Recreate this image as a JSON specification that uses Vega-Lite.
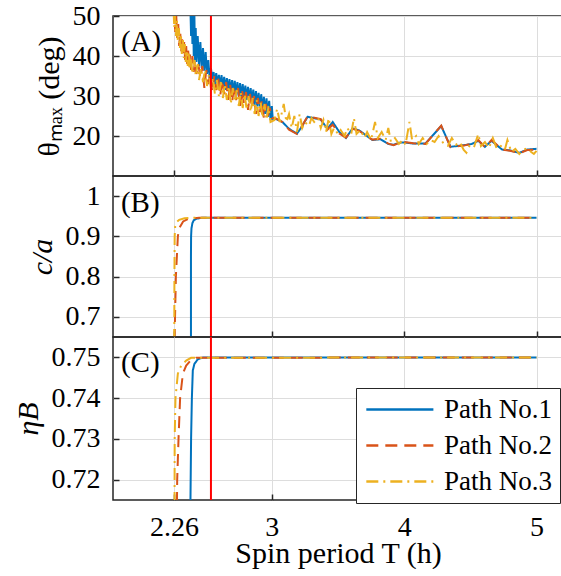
{
"$schema": "https://vega.github.io/schema/vega-lite/v6.json",
"padding": {"left": 12, "top": 1, "right": 0, "bottom": 0},
"spacing": 0,
"bounds": "flush",
"config": {
  "font": "Liberation Serif",
  "view": {"stroke": "#262626", "strokeWidth": 1.5},
  "axis": {"labelFontSize": 28, "titleFontSize": 30, "titleFontWeight": "normal", "tickSize": -6, "labelPadding": 19},
  "legend": {"labelFontSize": 27, "symbolType": "M-1,0H5", "symbolSize": 500}
},
"datasets": {
"a": [
{"p":"Path No.1","x":2.385,"y":52},{"p":"Path No.1","x":2.39,"y":45},{"p":"Path No.1","x":2.395,"y":52},{"p":"Path No.1","x":2.40,"y":43},{"p":"Path No.1","x":2.405,"y":51},{"p":"Path No.1","x":2.41,"y":40},{"p":"Path No.1","x":2.415,"y":50},{"p":"Path No.1","x":2.42,"y":39},{"p":"Path No.1","x":2.425,"y":47},{"p":"Path No.1","x":2.43,"y":38.5},{"p":"Path No.1","x":2.44,"y":45},{"p":"Path No.1","x":2.45,"y":37.5},{"p":"Path No.1","x":2.46,"y":43.5},{"p":"Path No.1","x":2.47,"y":37},{"p":"Path No.1","x":2.48,"y":42},{"p":"Path No.1","x":2.49,"y":36.3},{"p":"Path No.1","x":2.50,"y":41},{"p":"Path No.1","x":2.51,"y":35.5},{"p":"Path No.1","x":2.52,"y":39},{"p":"Path No.1","x":2.53,"y":34.5},{"p":"Path No.1","x":2.54,"y":37},{"p":"Path No.1","x":2.55,"y":34},{"p":"Path No.1","x":2.56,"y":36},{"p":"Path No.1","x":2.57,"y":33},{"p":"Path No.1","x":2.58,"y":35.7},{"p":"Path No.1","x":2.59,"y":32.8},{"p":"Path No.1","x":2.60,"y":35.3},{"p":"Path No.1","x":2.61,"y":32.2},{"p":"Path No.1","x":2.62,"y":35.2},{"p":"Path No.1","x":2.63,"y":32},{"p":"Path No.1","x":2.64,"y":34.8},{"p":"Path No.1","x":2.65,"y":31.5},{"p":"Path No.1","x":2.66,"y":34.5},{"p":"Path No.1","x":2.67,"y":31.2},{"p":"Path No.1","x":2.68,"y":34.2},{"p":"Path No.1","x":2.69,"y":30.8},{"p":"Path No.1","x":2.70,"y":34},{"p":"Path No.1","x":2.71,"y":30.5},{"p":"Path No.1","x":2.72,"y":33.8},{"p":"Path No.1","x":2.73,"y":30.2},{"p":"Path No.1","x":2.74,"y":33.5},{"p":"Path No.1","x":2.75,"y":30},{"p":"Path No.1","x":2.76,"y":33.2},{"p":"Path No.1","x":2.77,"y":29.7},{"p":"Path No.1","x":2.78,"y":33},{"p":"Path No.1","x":2.79,"y":29.4},{"p":"Path No.1","x":2.80,"y":32.6},{"p":"Path No.1","x":2.81,"y":29},{"p":"Path No.1","x":2.82,"y":32.3},{"p":"Path No.1","x":2.83,"y":28.6},{"p":"Path No.1","x":2.84,"y":32},{"p":"Path No.1","x":2.85,"y":28.2},{"p":"Path No.1","x":2.86,"y":31.6},{"p":"Path No.1","x":2.87,"y":27.8},{"p":"Path No.1","x":2.88,"y":31.2},{"p":"Path No.1","x":2.89,"y":27.4},{"p":"Path No.1","x":2.90,"y":30.8},{"p":"Path No.1","x":2.91,"y":27},{"p":"Path No.1","x":2.92,"y":30.4},{"p":"Path No.1","x":2.93,"y":26.2},{"p":"Path No.1","x":2.94,"y":29.8},{"p":"Path No.1","x":2.95,"y":25.5},{"p":"Path No.1","x":2.96,"y":29.4},{"p":"Path No.1","x":2.97,"y":24.8},{"p":"Path No.1","x":2.98,"y":28.8},{"p":"Path No.1","x":2.99,"y":24},{"p":"Path No.1","x":3.00,"y":27.5},{"p":"Path No.1","x":3.007,"y":24.2},
{"p":"Path No.1","x":3.03,"y":24.3},{"p":"Path No.1","x":3.08,"y":23.5},{"p":"Path No.1","x":3.13,"y":21.8},{"p":"Path No.1","x":3.19,"y":20.6},{"p":"Path No.1","x":3.22,"y":22},{"p":"Path No.1","x":3.27,"y":24.8},{"p":"Path No.1","x":3.33,"y":24.4},{"p":"Path No.1","x":3.37,"y":24.1},{"p":"Path No.1","x":3.42,"y":21.8},{"p":"Path No.1","x":3.46,"y":23.5},{"p":"Path No.1","x":3.51,"y":21},{"p":"Path No.1","x":3.56,"y":19.5},{"p":"Path No.1","x":3.61,"y":21.9},{"p":"Path No.1","x":3.66,"y":21.4},{"p":"Path No.1","x":3.71,"y":20.2},{"p":"Path No.1","x":3.76,"y":19},{"p":"Path No.1","x":3.82,"y":19.2},{"p":"Path No.1","x":3.88,"y":18},{"p":"Path No.1","x":3.92,"y":17.8},{"p":"Path No.1","x":3.96,"y":18.3},{"p":"Path No.1","x":4.00,"y":18.4},{"p":"Path No.1","x":4.07,"y":18.1},{"p":"Path No.1","x":4.16,"y":18.1},{"p":"Path No.1","x":4.28,"y":22.5},{"p":"Path No.1","x":4.35,"y":17.3},{"p":"Path No.1","x":4.45,"y":17.7},{"p":"Path No.1","x":4.51,"y":18},{"p":"Path No.1","x":4.56,"y":18.8},{"p":"Path No.1","x":4.61,"y":17.3},{"p":"Path No.1","x":4.66,"y":18.8},{"p":"Path No.1","x":4.74,"y":16.6},{"p":"Path No.1","x":4.80,"y":16.4},{"p":"Path No.1","x":4.87,"y":15.8},{"p":"Path No.1","x":4.93,"y":16.6},{"p":"Path No.1","x":5.0,"y":16.8},
{"p":"Path No.2","x":2.262,"y":52},{"p":"Path No.2","x":2.27,"y":46},{"p":"Path No.2","x":2.278,"y":50},{"p":"Path No.2","x":2.285,"y":44.5},{"p":"Path No.2","x":2.293,"y":48},{"p":"Path No.2","x":2.30,"y":42.5},{"p":"Path No.2","x":2.308,"y":46},{"p":"Path No.2","x":2.315,"y":41},{"p":"Path No.2","x":2.323,"y":45},{"p":"Path No.2","x":2.33,"y":40},{"p":"Path No.2","x":2.338,"y":43.5},{"p":"Path No.2","x":2.345,"y":39},{"p":"Path No.2","x":2.353,"y":42.5},{"p":"Path No.2","x":2.36,"y":38},{"p":"Path No.2","x":2.368,"y":41.5},{"p":"Path No.2","x":2.375,"y":37},{"p":"Path No.2","x":2.383,"y":40.5},{"p":"Path No.2","x":2.39,"y":36.5},{"p":"Path No.2","x":2.40,"y":40},{"p":"Path No.2","x":2.41,"y":36},{"p":"Path No.2","x":2.42,"y":39},{"p":"Path No.2","x":2.43,"y":35.5},{"p":"Path No.2","x":2.445,"y":38},{"p":"Path No.2","x":2.46,"y":34.5},{"p":"Path No.2","x":2.475,"y":37.5},{"p":"Path No.2","x":2.49,"y":32},{"p":"Path No.2","x":2.505,"y":36.5},{"p":"Path No.2","x":2.52,"y":33},{"p":"Path No.2","x":2.535,"y":35.5},{"p":"Path No.2","x":2.55,"y":31},{"p":"Path No.2","x":2.565,"y":35},{"p":"Path No.2","x":2.58,"y":31.5},{"p":"Path No.2","x":2.595,"y":34.5},{"p":"Path No.2","x":2.61,"y":30},{"p":"Path No.2","x":2.625,"y":34},{"p":"Path No.2","x":2.64,"y":30.5},{"p":"Path No.2","x":2.655,"y":33.5},{"p":"Path No.2","x":2.67,"y":29},{"p":"Path No.2","x":2.685,"y":33},{"p":"Path No.2","x":2.70,"y":28.5},{"p":"Path No.2","x":2.715,"y":32.5},{"p":"Path No.2","x":2.73,"y":29},{"p":"Path No.2","x":2.745,"y":32},{"p":"Path No.2","x":2.76,"y":27.5},{"p":"Path No.2","x":2.775,"y":31.5},{"p":"Path No.2","x":2.79,"y":28},{"p":"Path No.2","x":2.805,"y":31},{"p":"Path No.2","x":2.82,"y":26.5},{"p":"Path No.2","x":2.835,"y":30.5},{"p":"Path No.2","x":2.85,"y":27},{"p":"Path No.2","x":2.865,"y":30},{"p":"Path No.2","x":2.88,"y":25.5},{"p":"Path No.2","x":2.895,"y":29.5},{"p":"Path No.2","x":2.91,"y":26},{"p":"Path No.2","x":2.925,"y":29},{"p":"Path No.2","x":2.94,"y":24.5},{"p":"Path No.2","x":2.955,"y":28},{"p":"Path No.2","x":2.97,"y":25},{"p":"Path No.2","x":2.985,"y":27},{"p":"Path No.2","x":3.00,"y":24.5},
{"p":"Path No.2","x":3.03,"y":24.4},{"p":"Path No.2","x":3.08,"y":23.5},{"p":"Path No.2","x":3.13,"y":21.6},{"p":"Path No.2","x":3.19,"y":20.5},{"p":"Path No.2","x":3.22,"y":22},{"p":"Path No.2","x":3.27,"y":24.9},{"p":"Path No.2","x":3.33,"y":24.5},{"p":"Path No.2","x":3.37,"y":24.2},{"p":"Path No.2","x":3.42,"y":21.6},{"p":"Path No.2","x":3.46,"y":22.8},{"p":"Path No.2","x":3.51,"y":20.6},{"p":"Path No.2","x":3.56,"y":19.6},{"p":"Path No.2","x":3.61,"y":21.8},{"p":"Path No.2","x":3.66,"y":21.3},{"p":"Path No.2","x":3.71,"y":20.1},{"p":"Path No.2","x":3.76,"y":19.1},{"p":"Path No.2","x":3.82,"y":19.3},{"p":"Path No.2","x":3.88,"y":18.1},{"p":"Path No.2","x":3.92,"y":17.7},{"p":"Path No.2","x":3.96,"y":18.2},{"p":"Path No.2","x":4.00,"y":18.5},{"p":"Path No.2","x":4.07,"y":18.2},{"p":"Path No.2","x":4.16,"y":18},{"p":"Path No.2","x":4.28,"y":22.6},{"p":"Path No.2","x":4.35,"y":17.2},{"p":"Path No.2","x":4.45,"y":17.6},{"p":"Path No.2","x":4.51,"y":18.1},{"p":"Path No.2","x":4.56,"y":19},{"p":"Path No.2","x":4.61,"y":17.2},{"p":"Path No.2","x":4.66,"y":19},{"p":"Path No.2","x":4.74,"y":16.6},{"p":"Path No.2","x":4.80,"y":16.3},{"p":"Path No.2","x":4.87,"y":15.7},{"p":"Path No.2","x":4.93,"y":16.5},{"p":"Path No.2","x":5.0,"y":16.6},
{"p":"Path No.3","x":2.258,"y":51},{"p":"Path No.3","x":2.263,"y":47},{"p":"Path No.3","x":2.268,"y":50},{"p":"Path No.3","x":2.275,"y":45},{"p":"Path No.3","x":2.283,"y":49},{"p":"Path No.3","x":2.29,"y":43.5},{"p":"Path No.3","x":2.298,"y":47},{"p":"Path No.3","x":2.305,"y":42},{"p":"Path No.3","x":2.313,"y":45.5},{"p":"Path No.3","x":2.32,"y":40.5},{"p":"Path No.3","x":2.328,"y":44},{"p":"Path No.3","x":2.335,"y":39.5},{"p":"Path No.3","x":2.343,"y":43},{"p":"Path No.3","x":2.35,"y":38.5},{"p":"Path No.3","x":2.358,"y":41.5},{"p":"Path No.3","x":2.365,"y":37.5},{"p":"Path No.3","x":2.373,"y":41},{"p":"Path No.3","x":2.38,"y":37},{"p":"Path No.3","x":2.39,"y":39.5},{"p":"Path No.3","x":2.40,"y":35.5},{"p":"Path No.3","x":2.415,"y":39},{"p":"Path No.3","x":2.425,"y":35},{"p":"Path No.3","x":2.44,"y":38},{"p":"Path No.3","x":2.45,"y":34},{"p":"Path No.3","x":2.465,"y":37},{"p":"Path No.3","x":2.48,"y":33.5},{"p":"Path No.3","x":2.495,"y":36.5},{"p":"Path No.3","x":2.51,"y":32.5},{"p":"Path No.3","x":2.525,"y":35.5},{"p":"Path No.3","x":2.54,"y":32},{"p":"Path No.3","x":2.555,"y":34.5},{"p":"Path No.3","x":2.57,"y":30.5},{"p":"Path No.3","x":2.585,"y":34},{"p":"Path No.3","x":2.60,"y":30},{"p":"Path No.3","x":2.615,"y":33.5},{"p":"Path No.3","x":2.63,"y":29.5},{"p":"Path No.3","x":2.645,"y":33},{"p":"Path No.3","x":2.66,"y":29},{"p":"Path No.3","x":2.675,"y":32.5},{"p":"Path No.3","x":2.69,"y":28},{"p":"Path No.3","x":2.705,"y":32},{"p":"Path No.3","x":2.72,"y":28.5},{"p":"Path No.3","x":2.735,"y":31.5},{"p":"Path No.3","x":2.75,"y":27.5},{"p":"Path No.3","x":2.765,"y":31},{"p":"Path No.3","x":2.78,"y":27},{"p":"Path No.3","x":2.795,"y":30.5},{"p":"Path No.3","x":2.81,"y":26.5},{"p":"Path No.3","x":2.825,"y":30},{"p":"Path No.3","x":2.84,"y":26},{"p":"Path No.3","x":2.855,"y":29.5},{"p":"Path No.3","x":2.87,"y":25.5},{"p":"Path No.3","x":2.885,"y":29},{"p":"Path No.3","x":2.90,"y":25},{"p":"Path No.3","x":2.915,"y":28.5},{"p":"Path No.3","x":2.93,"y":24.5},{"p":"Path No.3","x":2.945,"y":28},{"p":"Path No.3","x":2.96,"y":24},{"p":"Path No.3","x":2.975,"y":27.5},{"p":"Path No.3","x":2.99,"y":23.5},
{"p":"Path No.3","x":3.02,"y":24},{"p":"Path No.3","x":3.04,"y":26.8},{"p":"Path No.3","x":3.06,"y":23.5},{"p":"Path No.3","x":3.09,"y":28},{"p":"Path No.3","x":3.11,"y":23.5},{"p":"Path No.3","x":3.13,"y":25.5},{"p":"Path No.3","x":3.15,"y":22},{"p":"Path No.3","x":3.17,"y":25},{"p":"Path No.3","x":3.19,"y":21},{"p":"Path No.3","x":3.21,"y":25.5},{"p":"Path No.3","x":3.23,"y":22},{"p":"Path No.3","x":3.25,"y":23.5},{"p":"Path No.3","x":3.28,"y":22.5},{"p":"Path No.3","x":3.30,"y":24.5},{"p":"Path No.3","x":3.32,"y":23.5},{"p":"Path No.3","x":3.35,"y":24.5},{"p":"Path No.3","x":3.37,"y":22},{"p":"Path No.3","x":3.39,"y":24},{"p":"Path No.3","x":3.41,"y":21},{"p":"Path No.3","x":3.43,"y":24.5},{"p":"Path No.3","x":3.45,"y":20.5},{"p":"Path No.3","x":3.47,"y":22},{"p":"Path No.3","x":3.50,"y":20.5},{"p":"Path No.3","x":3.52,"y":21.5},{"p":"Path No.3","x":3.55,"y":20},{"p":"Path No.3","x":3.57,"y":22},{"p":"Path No.3","x":3.60,"y":20.5},{"p":"Path No.3","x":3.62,"y":24.5},{"p":"Path No.3","x":3.64,"y":20.5},{"p":"Path No.3","x":3.67,"y":21.5},{"p":"Path No.3","x":3.70,"y":19.5},{"p":"Path No.3","x":3.72,"y":21},{"p":"Path No.3","x":3.75,"y":19},{"p":"Path No.3","x":3.78,"y":23.5},{"p":"Path No.3","x":3.80,"y":19.5},{"p":"Path No.3","x":3.83,"y":21},{"p":"Path No.3","x":3.86,"y":19},{"p":"Path No.3","x":3.88,"y":22},{"p":"Path No.3","x":3.90,"y":18.5},{"p":"Path No.3","x":3.93,"y":19.5},{"p":"Path No.3","x":3.96,"y":18},{"p":"Path No.3","x":3.99,"y":19},{"p":"Path No.3","x":4.01,"y":17.8},{"p":"Path No.3","x":4.04,"y":23.5},{"p":"Path No.3","x":4.06,"y":19},{"p":"Path No.3","x":4.09,"y":20},{"p":"Path No.3","x":4.11,"y":18},{"p":"Path No.3","x":4.14,"y":19.5},{"p":"Path No.3","x":4.17,"y":18},{"p":"Path No.3","x":4.20,"y":19},{"p":"Path No.3","x":4.23,"y":18.5},{"p":"Path No.3","x":4.26,"y":20},{"p":"Path No.3","x":4.30,"y":18},{"p":"Path No.3","x":4.33,"y":17.5},{"p":"Path No.3","x":4.36,"y":19.5},{"p":"Path No.3","x":4.39,"y":17.8},{"p":"Path No.3","x":4.42,"y":18.5},{"p":"Path No.3","x":4.45,"y":16.5},{"p":"Path No.3","x":4.47,"y":15.8},{"p":"Path No.3","x":4.50,"y":18},{"p":"Path No.3","x":4.53,"y":17.5},{"p":"Path No.3","x":4.56,"y":20.5},{"p":"Path No.3","x":4.58,"y":17.5},{"p":"Path No.3","x":4.61,"y":18.5},{"p":"Path No.3","x":4.64,"y":17},{"p":"Path No.3","x":4.67,"y":19.5},{"p":"Path No.3","x":4.70,"y":16.8},{"p":"Path No.3","x":4.73,"y":17.5},{"p":"Path No.3","x":4.76,"y":16.5},{"p":"Path No.3","x":4.78,"y":19},{"p":"Path No.3","x":4.81,"y":16},{"p":"Path No.3","x":4.84,"y":16.8},{"p":"Path No.3","x":4.87,"y":15.5},{"p":"Path No.3","x":4.90,"y":16.5},{"p":"Path No.3","x":4.93,"y":17},{"p":"Path No.3","x":4.96,"y":16},{"p":"Path No.3","x":4.98,"y":15.5},{"p":"Path No.3","x":5.0,"y":16.3}
],
"b": [
{"p":"Path No.1","x":2.389,"y":0.64},{"p":"Path No.1","x":2.389,"y":0.85},{"p":"Path No.1","x":2.39,"y":0.9},{"p":"Path No.1","x":2.393,"y":0.92},{"p":"Path No.1","x":2.40,"y":0.933},{"p":"Path No.1","x":2.41,"y":0.94},{"p":"Path No.1","x":2.43,"y":0.944},{"p":"Path No.1","x":2.47,"y":0.946},{"p":"Path No.1","x":5.0,"y":0.946},
{"p":"Path No.2","x":2.265,"y":0.64},{"p":"Path No.2","x":2.275,"y":0.8},{"p":"Path No.2","x":2.29,"y":0.9},{"p":"Path No.2","x":2.30,"y":0.92},{"p":"Path No.2","x":2.33,"y":0.937},{"p":"Path No.2","x":2.37,"y":0.944},{"p":"Path No.2","x":2.45,"y":0.946},{"p":"Path No.2","x":5.0,"y":0.946},
{"p":"Path No.3","x":2.263,"y":0.64},{"p":"Path No.3","x":2.264,"y":0.8},{"p":"Path No.3","x":2.266,"y":0.9},{"p":"Path No.3","x":2.27,"y":0.925},{"p":"Path No.3","x":2.28,"y":0.935},{"p":"Path No.3","x":2.30,"y":0.941},{"p":"Path No.3","x":2.34,"y":0.945},{"p":"Path No.3","x":2.40,"y":0.946},{"p":"Path No.3","x":5.0,"y":0.946}
],
"c": [
{"p":"Path No.1","x":2.385,"y":0.714},{"p":"Path No.1","x":2.39,"y":0.73},{"p":"Path No.1","x":2.396,"y":0.74},{"p":"Path No.1","x":2.403,"y":0.7468},{"p":"Path No.1","x":2.415,"y":0.7484},{"p":"Path No.1","x":2.44,"y":0.7495},{"p":"Path No.1","x":2.48,"y":0.75},{"p":"Path No.1","x":5.0,"y":0.75},
{"p":"Path No.2","x":2.283,"y":0.714},{"p":"Path No.2","x":2.285,"y":0.72},{"p":"Path No.2","x":2.295,"y":0.73},{"p":"Path No.2","x":2.307,"y":0.74},{"p":"Path No.2","x":2.328,"y":0.746},{"p":"Path No.2","x":2.353,"y":0.748},{"p":"Path No.2","x":2.39,"y":0.7494},{"p":"Path No.2","x":2.428,"y":0.7499},{"p":"Path No.2","x":5.0,"y":0.75},
{"p":"Path No.3","x":2.265,"y":0.714},{"p":"Path No.3","x":2.266,"y":0.73},{"p":"Path No.3","x":2.272,"y":0.74},{"p":"Path No.3","x":2.29,"y":0.746},{"p":"Path No.3","x":2.315,"y":0.748},{"p":"Path No.3","x":2.353,"y":0.7492},{"p":"Path No.3","x":2.39,"y":0.7499},{"p":"Path No.3","x":5.0,"y":0.75}
],
"one": [{"redline": 2.54}]
},
"resolve": {"scale": {"color": "independent", "strokeDash": "independent"}, "legend": {"color": "independent", "strokeDash": "independent"}},
"vconcat": [
{
  "width": 450, "height": 160,
  "layer": [
    {"data": {"name": "a"}, "mark": {"type": "line", "clip": true, "strokeWidth": 2},
     "encoding": {
       "x": {"field": "x", "type": "quantitative", "scale": {"domain": [1.8, 5.2], "nice": false, "zero": false}, "axis": {"values": [2.26, 3, 4, 5], "labels": false, "title": null, "domain": false, "gridColor": "#dddddd", "tickColor": "#262626", "tickWidth": 1.5}},
       "y": {"field": "y", "type": "quantitative", "scale": {"domain": [10, 50], "nice": false}, "axis": {"values": [20, 30, 40, 50], "title": "θₘₐₓ (deg)", "labelFont": "Liberation Serif", "titleFont": "Liberation Serif", "titlePadding": 8, "domain": false, "gridColor": "#dddddd", "tickColor": "#262626", "tickWidth": 1.5}},
       "color": {"field": "p", "type": "nominal", "scale": {"domain": ["Path No.1", "Path No.2", "Path No.3"], "range": ["#0072BD", "#D95319", "#EDB120"]}, "legend": null},
       "strokeDash": {"field": "p", "type": "nominal", "scale": {"domain": ["Path No.1", "Path No.2", "Path No.3"], "range": [[1, 0], [12, 7], [12, 5, 2, 5]]}, "legend": null}
     }},
    {"data": {"name": "one"}, "mark": {"type": "rule", "color": "#FF0000", "strokeWidth": 2}, "encoding": {"x": {"field": "redline", "type": "quantitative", "scale": {"domain": [1.8, 5.2], "nice": false, "zero": false}}}},
    {"data": {"name": "one"}, "mark": {"type": "text", "text": "(A)", "font": "Liberation Serif", "fontSize": 29, "align": "left", "baseline": "middle", "color": "#000000"}, "encoding": {"x": {"datum": 1.86}, "y": {"datum": 43.5}}}
  ]
},
{
  "width": 450, "height": 161,
  "layer": [
    {"data": {"name": "b"}, "mark": {"type": "line", "clip": true, "strokeWidth": 2},
     "encoding": {
       "x": {"field": "x", "type": "quantitative", "scale": {"domain": [1.8, 5.2], "nice": false, "zero": false}, "axis": {"values": [2.26, 3, 4, 5], "labels": false, "title": null, "domain": false, "gridColor": "#dddddd", "tickColor": "#262626", "tickWidth": 1.5}},
       "y": {"field": "y", "type": "quantitative", "scale": {"domain": [0.65, 1.05], "nice": false, "zero": false}, "axis": {"values": [0.7, 0.8, 0.9, 1], "format": ".2~g", "title": "c/a", "titleFontStyle": "italic", "labelFont": "Liberation Serif", "titleFont": "Liberation Serif", "titlePadding": 8, "domain": false, "gridColor": "#dddddd", "tickColor": "#262626", "tickWidth": 1.5}},
       "color": {"field": "p", "type": "nominal", "scale": {"domain": ["Path No.1", "Path No.2", "Path No.3"], "range": ["#0072BD", "#D95319", "#EDB120"]}, "legend": null},
       "strokeDash": {"field": "p", "type": "nominal", "scale": {"domain": ["Path No.1", "Path No.2", "Path No.3"], "range": [[1, 0], [12, 7], [12, 5, 2, 5]]}, "legend": null}
     }},
    {"data": {"name": "one"}, "mark": {"type": "rule", "color": "#FF0000", "strokeWidth": 2}, "encoding": {"x": {"field": "redline", "type": "quantitative", "scale": {"domain": [1.8, 5.2], "nice": false, "zero": false}}}},
    {"data": {"name": "one"}, "mark": {"type": "text", "text": "(B)", "font": "Liberation Serif", "fontSize": 29, "align": "left", "baseline": "middle", "color": "#000000"}, "encoding": {"x": {"datum": 1.86}, "y": {"datum": 0.983}}}
  ]
},
{
  "width": 450, "height": 163,
  "layer": [
    {"data": {"name": "c"}, "mark": {"type": "line", "clip": true, "strokeWidth": 2},
     "encoding": {
       "x": {"field": "x", "type": "quantitative", "scale": {"domain": [1.8, 5.2], "nice": false, "zero": false}, "axis": {"values": [2.26, 3, 4, 5], "format": ".3~g", "title": "Spin period T (h)", "labelFont": "Liberation Serif", "titleFont": "Liberation Serif", "labelPadding": 19, "titlePadding": -3, "domain": false, "gridColor": "#dddddd", "tickColor": "#262626", "tickWidth": 1.5}},
       "y": {"field": "y", "type": "quantitative", "scale": {"domain": [0.715, 0.755], "nice": false, "zero": false}, "axis": {"values": [0.72, 0.73, 0.74, 0.75], "format": ".2f", "title": "ηB", "titleFontStyle": "italic", "labelFont": "Liberation Serif", "titleFont": "Liberation Serif", "titlePadding": 8, "domain": false, "gridColor": "#dddddd", "tickColor": "#262626", "tickWidth": 1.5}},
       "color": {"field": "p", "type": "nominal", "scale": {"domain": ["Path No.1", "Path No.2", "Path No.3"], "range": ["#0072BD", "#D95319", "#EDB120"]}, "legend": {"title": null, "orient": "none", "legendX": 243, "legendY": 51, "labelFont": "Liberation Serif", "symbolStrokeWidth": 2.5, "symbolFillColor": "transparent", "fillColor": "white", "strokeColor": "#262626", "padding": 8, "rowPadding": 8, "labelOffset": 53}},
       "strokeDash": {"field": "p", "type": "nominal", "scale": {"domain": ["Path No.1", "Path No.2", "Path No.3"], "range": [[1, 0], [12, 7], [12, 5, 2, 5]]}, "legend": {"title": null, "orient": "none", "legendX": 243, "legendY": 51, "labelFont": "Liberation Serif", "symbolStrokeWidth": 2.5, "symbolFillColor": "transparent", "fillColor": "white", "strokeColor": "#262626", "padding": 8, "rowPadding": 8, "labelOffset": 53}}
     }},
    {"data": {"name": "one"}, "mark": {"type": "rule", "color": "#FF0000", "strokeWidth": 2}, "encoding": {"x": {"field": "redline", "type": "quantitative", "scale": {"domain": [1.8, 5.2], "nice": false, "zero": false}}}},
    {"data": {"name": "one"}, "mark": {"type": "text", "text": "(C)", "font": "Liberation Serif", "fontSize": 29, "align": "left", "baseline": "middle", "color": "#000000"}, "encoding": {"x": {"datum": 1.86}, "y": {"datum": 0.7486}}}
  ]
}
]
}
